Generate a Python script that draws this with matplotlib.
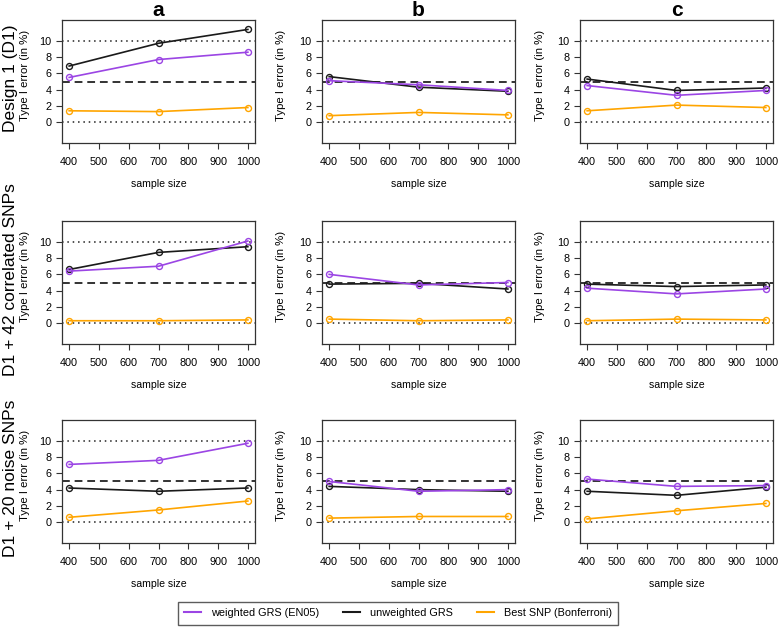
import numpy as np
import matplotlib
matplotlib.use("Agg")
import matplotlib.pyplot as plt
from matplotlib.lines import Line2D

plt.rcParams['font.family'] = ['Liberation Sans', 'DejaVu Sans']

# data
sample_size = [400, 700, 1000]
col_titles = ['a', 'b', 'c']
row_titles = ['Design 1 (D1)', 'D1 + 42 correlated SNPs', 'D1 + 20 noise SNPs']
series_names = ['weighted GRS (EN05)', 'unweighted GRS', 'Best SNP (Bonferroni)']

# weighted GRS (purple), one list per panel, row by row
weighted = [
    [[5.5, 7.7, 8.6], [5.1, 4.6, 3.9], [4.5, 3.3, 3.9]],
    [[6.4, 7.0, 10.1], [6.0, 4.7, 5.0], [4.3, 3.6, 4.2]],
    [[7.1, 7.6, 9.7], [5.0, 3.8, 4.0], [5.3, 4.4, 4.5]],
]
# unweighted GRS (black)
unweighted = [
    [[6.9, 9.7, 11.4], [5.6, 4.3, 3.8], [5.3, 3.9, 4.2]],
    [[6.6, 8.7, 9.4], [4.8, 4.9, 4.2], [4.8, 4.5, 4.7]],
    [[4.2, 3.8, 4.2], [4.4, 4.0, 3.8], [3.8, 3.3, 4.3]],
]
# best SNP (orange)
best_snp = [
    [[1.4, 1.3, 1.8], [0.8, 1.2, 0.9], [1.4, 2.1, 1.8]],
    [[0.3, 0.3, 0.4], [0.5, 0.3, 0.4], [0.3, 0.5, 0.4]],
    [[0.6, 1.5, 2.6], [0.5, 0.7, 0.7], [0.4, 1.4, 2.3]],
]

colors = ['#9b45e4', '#1a1a1a', '#ffa500']

W, H = 778, 628
fig = plt.figure(figsize=(W / 100, H / 100), dpi=100)

lefts = [62, 322, 580]
tops = [20, 221, 420]
aw, ah = 193, 123

for r in range(3):
    for c in range(3):
        ax = fig.add_axes([lefts[c] / W, 1 - (tops[r] + ah) / H, aw / W, ah / H])
        ax.axhline(10, color='#222222', lw=1.1, ls=(0, (1, 2.5)))
        ax.axhline(0, color='#222222', lw=1.1, ls=(0, (1, 2.5)))
        ax.axhline(5, color='#333333', lw=1.4, ls=(0, (4, 2.5)))
        for vals, col in zip([best_snp, unweighted, weighted], [colors[2], colors[1], colors[0]]):
            ax.plot(sample_size, vals[r][c], color=col, lw=1.2, marker='o',
                    markersize=4.3, markerfacecolor='none', markeredgewidth=1.0)
        ax.set_xlim(376, 1024)
        ax.set_ylim(-2.56, 12.56)
        ax.set_xticks(range(400, 1001, 100))
        ax.set_yticks([0, 2, 4, 6, 8, 10])
        ax.tick_params(labelsize=7.8, length=4, width=0.8, color='#333333')
        ax.tick_params(axis='x', pad=6)
        for s in ax.spines.values():
            s.set_color('#333333')
            s.set_linewidth(0.9)
        ax.annotate('sample size', xy=(0.5, 0), xycoords='axes fraction',
                    xytext=(0, -29.5), textcoords='offset points',
                    ha='center', va='center', fontsize=7.6)
        ycen = 1 - (tops[r] + ah / 2 - 6) / H
        xlab = [25, 281, 540][c]
        fig.text(xlab / W, ycen, 'Type I error (in %)', rotation=90,
                 ha='center', va='center', fontsize=8.2)
        if r == 0:
            fig.text((lefts[c] + aw / 2) / W, 1 - 10 / H, col_titles[c],
                     ha='center', va='center', fontsize=15, fontweight='bold')
    fig.text(11 / W, 1 - (tops[r] + ah / 2 - 3) / H, row_titles[r], rotation=90,
             ha='center', va='center', fontsize=12.5)

handles = [Line2D([0], [0], color=col, lw=1.5) for col in colors]
fig.legend(handles, series_names, loc='center', bbox_to_anchor=(398 / W, 1 - 613 / H),
           ncol=3, fontsize=7.8, frameon=True, fancybox=False, edgecolor='#333333',
           handlelength=1.6, handletextpad=0.9, columnspacing=2.2, borderpad=0.6)

fig.savefig('out.png', dpi=100)
